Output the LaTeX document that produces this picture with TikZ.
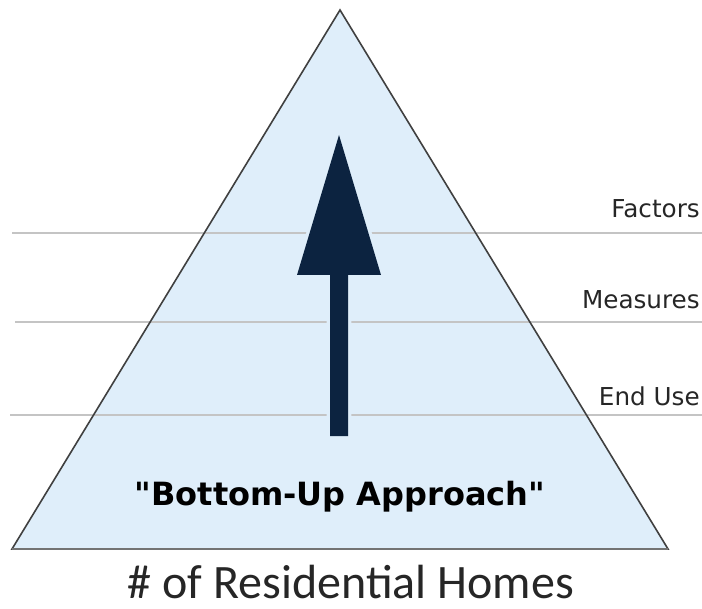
\documentclass[tikz,border=0pt]{standalone}
\usepackage{fontspec}
\setmainfont{DejaVu Sans}
\newfontfamily\homefont{Carlito}
\usepackage{xcolor}

\definecolor{pyrfill}{HTML}{DFEEFA}
\definecolor{arrownavy}{HTML}{0C2340}
\definecolor{levelgray}{HTML}{C4C4C4}

\begin{document}
\begin{tikzpicture}[x=0.75pt,y=-0.75pt,
  level/.style={draw=levelgray,line width=1.1pt},
  levellabel/.style={anchor=base east,inner sep=0pt,text=black!85,
    font=\fontsize{18.5}{21}\selectfont}]
  \useasboundingbox (0,0) rectangle (702,609);

  % ピラミッド
  \coordinate (top) at (340,10);
  \coordinate (bl) at (12,549);
  \coordinate (br) at (668,549);
  \fill[pyrfill] (top) -- (bl) -- (br) -- cycle;

  % 区分線
  \draw[level] (12,233) -- (702,233);
  \draw[level] (15,322) -- (702,322);
  \draw[level] (10,415) -- (702,415);
  \node[levellabel] (factors) at (700,218) {Factors};
  \node[levellabel] (measures) at (700,308) {Measures};
  \node[levellabel] (enduse) at (700,405) {End Use};

  % 矢印
  \fill[arrownavy,preaction={draw=pyrfill,line width=5pt,line join=miter}]
    (339,135) -- (381,275) -- (348,275) -- (348,436)
    -- (330,436) -- (330,275) -- (297,275) -- cycle;

  % 輪郭
  \draw[black!75,line width=1.2pt,line join=miter] (top) -- (bl) -- (br) -- cycle;
  \draw[black!55,line width=2pt] (bl) -- (br);

  \node[anchor=base,inner sep=0pt,font=\bfseries\fontsize{24}{28}\selectfont]
    (approach) at (340,505) {\textquotedbl Bottom-Up Approach\textquotedbl};
  \node[anchor=base,inner sep=0pt,text=black!85,font=\homefont\fontsize{36}{40}\selectfont]
    (homes) at (351,598) {\# of Residential Homes};
\end{tikzpicture}
\end{document}
